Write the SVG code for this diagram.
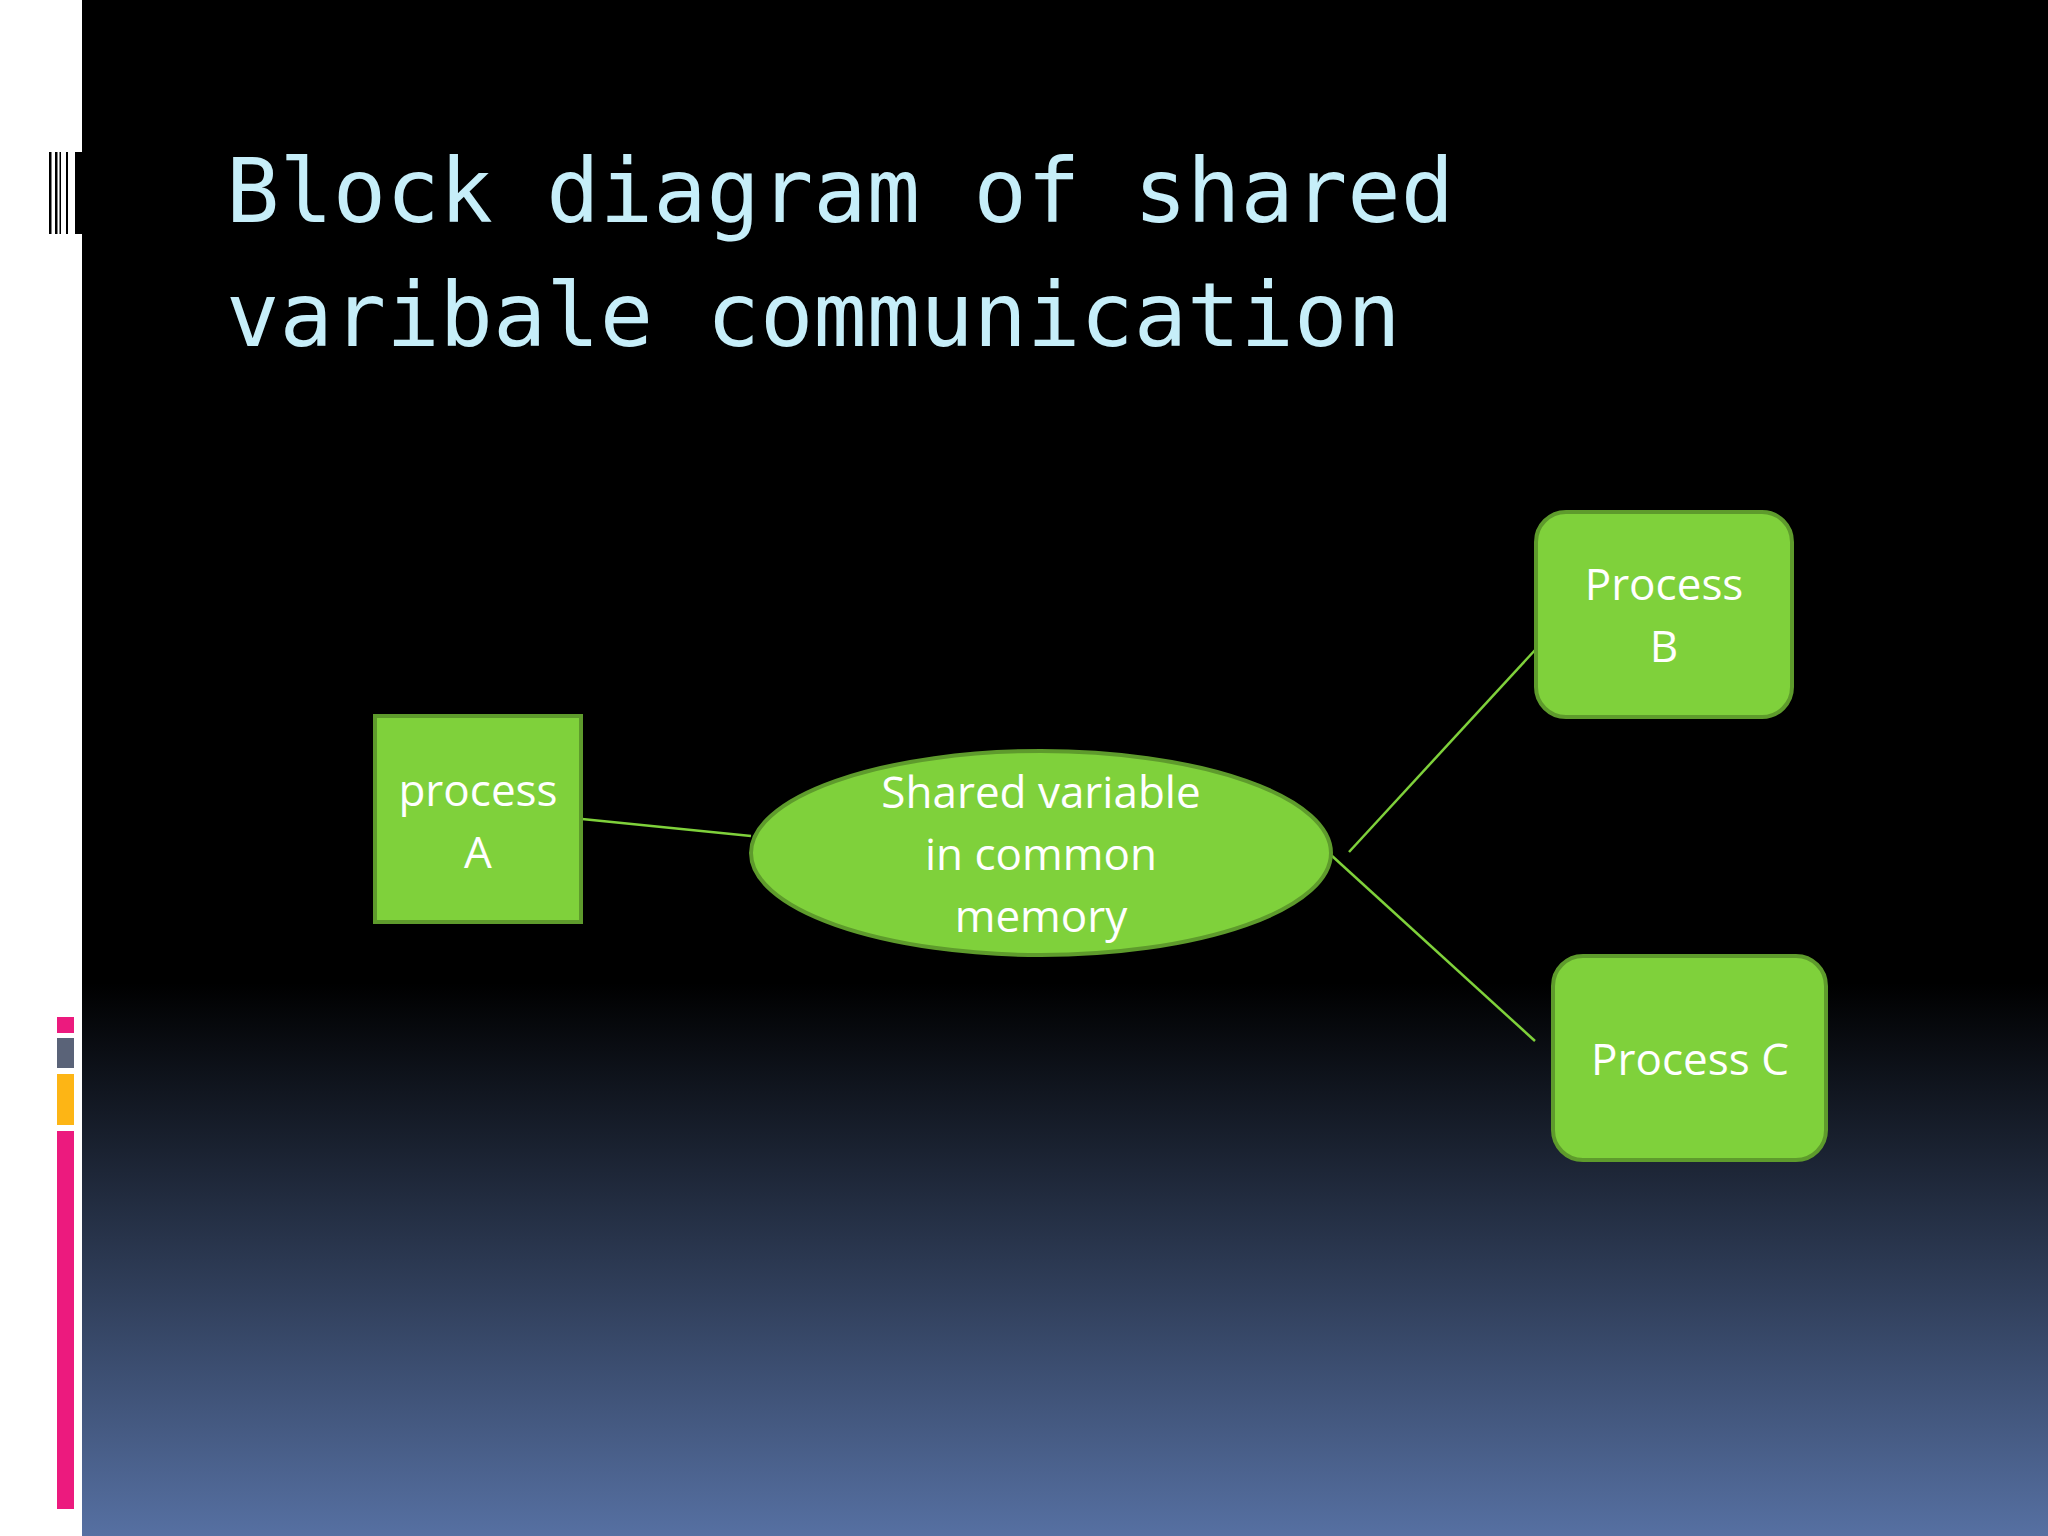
<svg xmlns="http://www.w3.org/2000/svg" width="2048" height="1536" viewBox="0 0 2048 1536">
<defs>
<linearGradient id="bg" x1="0" y1="0" x2="0" y2="1536" gradientUnits="userSpaceOnUse">
<stop offset="0" stop-color="#000000"/>
<stop offset="0.64" stop-color="#000000"/>
<stop offset="1" stop-color="#5670A2"/>
</linearGradient>
<style>
.title{font-family:"DejaVu Sans Mono",monospace;font-size:88.7px;fill:#C6EEF9;}
.node{fill:#7FD13B;stroke:#5E9B2C;stroke-width:4;}
.lbl{font-family:"Open Sans","Liberation Sans",sans-serif;font-size:44px;fill:#FFFFFF;text-anchor:middle;}
.conn{stroke:#7FD13B;stroke-width:2.5;fill:none;}
</style>
</defs>
<rect x="0" y="0" width="2048" height="1536" fill="#FFFFFF"/>
<rect x="82" y="0" width="1966" height="1536" fill="url(#bg)"/>
<g id="barcode" fill="#000000">
<rect x="49" y="152" width="2.5" height="82"/>
<rect x="55" y="152" width="2.5" height="82"/>
<rect x="59.5" y="152" width="1.5" height="82"/>
<rect x="66" y="152" width="2" height="82"/>
<rect x="75" y="152" width="7" height="82"/>
</g>
<g id="sidebars">
<rect x="57" y="1017" width="17" height="16" fill="#EC1A7E"/>
<rect x="57" y="1038" width="17" height="30" fill="#5A6378"/>
<rect x="57" y="1074" width="17" height="51" fill="#FDB515"/>
<rect x="57" y="1131" width="17" height="378" fill="#EC1A7E"/>
</g>
<g id="title">
<text class="title" x="226" y="222">Block diagram of shared</text>
<text class="title" x="226" y="346">varibale communication</text>
</g>
<g id="connectors">
<line class="conn" x1="582" y1="819" x2="751" y2="836"/>
<line class="conn" x1="1349" y1="852" x2="1536" y2="649"/>
<line class="conn" x1="1331" y1="855" x2="1535" y2="1041"/>
</g>
<g id="processA">
<rect class="node" x="375" y="716" width="206" height="206"/>
<text class="lbl" x="478" y="806">process</text>
<text class="lbl" x="478" y="868">A</text>
</g>
<g id="shared">
<ellipse class="node" cx="1041" cy="853" rx="290" ry="102"/>
<text class="lbl" x="1041" y="808">Shared variable</text>
<text class="lbl" x="1041" y="870">in common</text>
<text class="lbl" x="1041" y="932">memory</text>
</g>
<g id="processB">
<rect class="node" x="1536" y="512" width="256" height="205" rx="30" ry="30"/>
<text class="lbl" x="1664" y="600">Process</text>
<text class="lbl" x="1664" y="662">B</text>
</g>
<g id="processC">
<rect class="node" x="1553" y="956" width="273" height="204" rx="30" ry="30"/>
<text class="lbl" x="1690" y="1075">Process C</text>
</g>
</svg>
